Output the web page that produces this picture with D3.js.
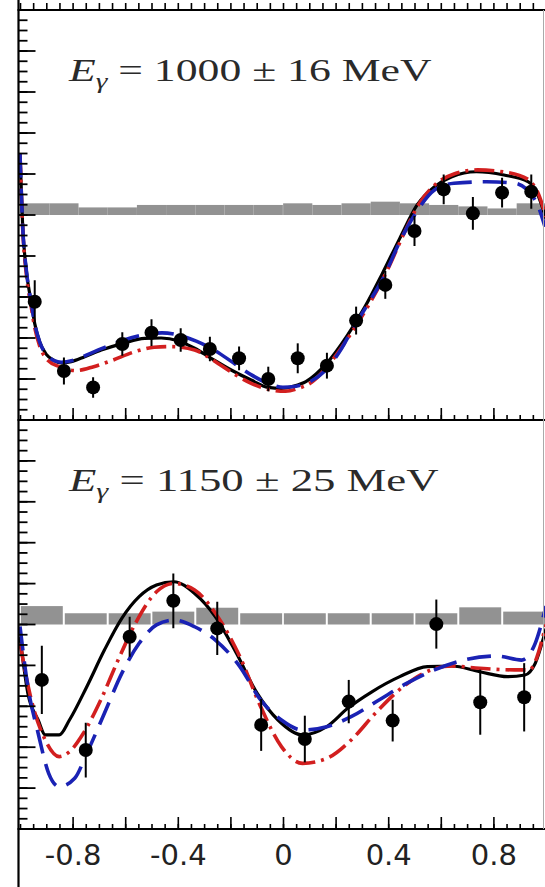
<!DOCTYPE html>
<html>
<head>
<meta charset="utf-8">
<script src="https://cdn.jsdelivr.net/npm/d3@7"></script>
<style>
  html, body { margin: 0; padding: 0; background: #fff; }
  svg { display: block; }
</style>
</head>
<body>
<div id="chart"></div>
<script>
// ---- data ----
// cos(theta) bin centres
var binsTop = [-0.944, -0.833, -0.722, -0.611, -0.5, -0.389, -0.278, -0.167, -0.056,
               0.056, 0.167, 0.278, 0.389, 0.5, 0.611, 0.722, 0.833, 0.944];
var binsBot = [-0.917, -0.75, -0.583, -0.417, -0.25, -0.083, 0.083, 0.25, 0.417, 0.583, 0.75, 0.917];

// measured points, statistical errors, systematic band (E = 1000 MeV)
var valTop = [-0.423, -0.761, -0.841, -0.629, -0.574, -0.610, -0.654, -0.699, -0.800,
              -0.699, -0.735, -0.515, -0.341, -0.078, 0.125, 0.008, 0.109, 0.114];
var errTop = [0.105, 0.066, 0.05, 0.057, 0.065, 0.057, 0.06, 0.058, 0.06,
              0.073, 0.063, 0.068, 0.068, 0.073, 0.073, 0.08, 0.073, 0.083];
var sysTop = [0.057, 0.057, 0.037, 0.037, 0.049, 0.049, 0.049, 0.049, 0.049,
              0.057, 0.049, 0.057, 0.065, 0.057, 0.049, 0.042, 0.032, 0.057];

// E = 1150 MeV
var valBot = [-0.271, -0.614, -0.060, 0.116, -0.019, -0.491, -0.560, -0.377, -0.470, 0.002, -0.380, -0.356];
var errBot = [0.167, 0.134, 0.098, 0.134, 0.13, 0.127, 0.114, 0.106, 0.102, 0.12, 0.159, 0.167];
var sysBot = [0.09, 0.055, 0.055, 0.063, 0.082, 0.055, 0.055, 0.055, 0.055, 0.055, 0.084, 0.063];

// model curves [cos(theta), value]
var blackTop = [[-1.0, 0.30], [-0.99, -0.05], [-0.975, -0.28], [-0.957, -0.43], [-0.944, -0.53], [-0.925, -0.62],
  [-0.90, -0.68], [-0.87, -0.71], [-0.843, -0.722], [-0.805, -0.715], [-0.754, -0.691], [-0.691, -0.659], [-0.608, -0.626],
  [-0.526, -0.602], [-0.463, -0.600], [-0.399, -0.613], [-0.336, -0.650], [-0.273, -0.699], [-0.197, -0.756],
  [-0.121, -0.805], [-0.057, -0.841], [-0.006, -0.846], [0.04, -0.835], [0.087, -0.813], [0.166, -0.724],
  [0.246, -0.585], [0.312, -0.447], [0.378, -0.285], [0.444, -0.114], [0.510, 0.049], [0.576, 0.138],
  [0.642, 0.187], [0.735, 0.211], [0.840, 0.195], [0.933, 0.162], [0.972, 0.089], [1.0, -0.02]];
var redTop = [[-1.0, 0.30], [-0.99, -0.06], [-0.975, -0.30], [-0.957, -0.45], [-0.944, -0.55], [-0.925, -0.64],
  [-0.90, -0.70], [-0.85, -0.74], [-0.786, -0.759], [-0.72, -0.74], [-0.653, -0.711], [-0.564, -0.667], [-0.49, -0.645],
  [-0.425, -0.642], [-0.336, -0.659], [-0.247, -0.724], [-0.18, -0.78], [-0.121, -0.821], [-0.044, -0.854],
  [0.01, -0.86], [0.06, -0.845], [0.11, -0.815], [0.18, -0.72], [0.26, -0.575], [0.33, -0.43], [0.40, -0.26],
  [0.46, -0.09], [0.52, 0.06], [0.58, 0.15], [0.65, 0.20], [0.74, 0.22], [0.84, 0.21], [0.93, 0.175],
  [0.972, 0.10], [1.0, -0.01]];
var blueTop = [[-1.0, 0.30], [-0.99, -0.05], [-0.975, -0.28], [-0.957, -0.43], [-0.944, -0.53], [-0.925, -0.62],
  [-0.90, -0.68], [-0.87, -0.71], [-0.843, -0.718], [-0.80, -0.71], [-0.75, -0.685], [-0.69, -0.652], [-0.61, -0.612],
  [-0.53, -0.585], [-0.46, -0.575], [-0.40, -0.585], [-0.33, -0.615], [-0.26, -0.66], [-0.19, -0.72],
  [-0.12, -0.78], [-0.06, -0.82], [0.0, -0.84], [0.05, -0.835], [0.10, -0.815], [0.16, -0.76], [0.219, -0.659],
  [0.259, -0.569], [0.32, -0.44], [0.38, -0.31], [0.45, -0.114], [0.51, 0.02], [0.576, 0.122], [0.65, 0.155],
  [0.774, 0.162], [0.88, 0.155], [0.959, 0.073], [0.996, -0.057]];

var blackBot = [[-1.0, -0.06], [-0.970, -0.337], [-0.931, -0.467], [-0.904, -0.540], [-0.851, -0.540],
  [-0.812, -0.467], [-0.746, -0.304], [-0.679, -0.125], [-0.613, 0.030], [-0.547, 0.136], [-0.481, 0.193],
  [-0.415, 0.209], [-0.336, 0.152], [-0.257, 0.038], [-0.177, -0.141], [-0.098, -0.337], [-0.019, -0.467],
  [0.074, -0.540], [0.166, -0.500], [0.246, -0.410], [0.338, -0.329], [0.444, -0.255], [0.549, -0.206],
  [0.642, -0.203], [0.748, -0.231], [0.854, -0.255], [0.920, -0.247], [0.959, -0.190], [1.0, -0.02]];
var redBot = [[-1.0, -0.092], [-0.957, -0.369], [-0.904, -0.565], [-0.851, -0.646], [-0.812, -0.622],
  [-0.759, -0.532], [-0.693, -0.369], [-0.627, -0.174], [-0.561, 0.006], [-0.481, 0.160], [-0.415, 0.201],
  [-0.336, 0.169], [-0.257, 0.055], [-0.164, -0.157], [-0.085, -0.402], [-0.006, -0.597], [0.074, -0.679],
  [0.166, -0.655], [0.259, -0.565], [0.351, -0.434], [0.457, -0.304], [0.563, -0.222], [0.642, -0.203],
  [0.748, -0.214], [0.880, -0.222], [0.935, -0.222], [1.0, 0.0]];
var blueBot = [[-1.0, -0.01], [-0.970, -0.304], [-0.931, -0.532], [-0.891, -0.728], [-0.851, -0.793],
  [-0.792, -0.752], [-0.746, -0.630], [-0.679, -0.434], [-0.613, -0.239], [-0.547, -0.092], [-0.481, -0.002],
  [-0.415, 0.022], [-0.336, -0.011], [-0.257, -0.076], [-0.164, -0.206], [-0.085, -0.369], [-0.006, -0.467],
  [0.074, -0.516], [0.166, -0.500], [0.259, -0.451], [0.365, -0.369], [0.470, -0.288], [0.576, -0.222],
  [0.687, -0.174], [0.814, -0.154], [0.907, -0.174], [0.959, -0.092], [1.0, 0.09]];

var labelsTop = "1000 \u00b1 16 MeV";
var labelsBot = "1150 \u00b1 25 MeV";
var xTickLabels = [-0.8, -0.4, 0, 0.4, 0.8];

// ---- layout ----
var W = 545, H = 887;
var svg = d3.select("#chart").append("svg")
    .attr("width", W)
    .attr("height", H);

var x = d3.scaleLinear().domain([-1, 1]).range([20, 546]);
var left = 18.5, right = 545;

var panels = [
  {top: 10, bottom: 420, bins: binsTop, val: valTop, err: errTop, sys: sysTop, gap: 0,
   curves: [blackTop, redTop, blueTop], label: labelsTop, labelEnd: 434},
  {top: 420, bottom: 829, bins: binsBot, val: valBot, err: errBot, sys: sysBot, gap: 2,
   curves: [blackBot, redBot, blueBot], label: labelsBot, labelEnd: 441}
];

var styles = [
  {color: "#000000", dash: null, width: 3.2},
  {color: "#d21f1f", dash: "20,6,3,6", width: 3.6},
  {color: "#1a22b4", dash: "24,11", width: 3.6}
];

var majors = d3.range(-0.8, 0.81, 0.2).map(function(d) { return Math.round(d * 10) / 10; });
var minors = d3.range(-1, 1.001, 0.05).map(function(d) { return Math.round(d * 100) / 100; });

panels.forEach(function(p, pi) {
  var y = d3.scaleLinear().domain([-1, 1]).range([p.bottom, p.top]);
  var clipId = "clip" + pi;
  svg.append("clipPath").attr("id", clipId)
    .append("rect")
      .attr("x", left).attr("y", p.top)
      .attr("width", right - left).attr("height", p.bottom - p.top);

  var g = svg.append("g").attr("clip-path", "url(#" + clipId + ")");

  // systematic error band
  var half = (p.bins[1] - p.bins[0]) / 2;
  g.selectAll(".sys")
    .data(p.bins)
    .enter().append("rect")
      .attr("class", "sys")
      .attr("x", function(d) { return x(d - half) + p.gap / 2; })
      .attr("width", function(d) { return x(d + half) - x(d - half) - p.gap; })
      .attr("y", function(d, i) { return y(p.sys[i]); })
      .attr("height", function(d, i) { return y(0) - y(p.sys[i]); })
      .attr("fill", "#929292");

  // model curves
  var line = d3.line()
      .x(function(d) { return x(d[0]); })
      .y(function(d) { return y(d[1]); })
      .curve(d3.curveMonotoneX);

  p.curves.forEach(function(c, ci) {
    var s = styles[ci];
    g.append("path")
      .datum(c)
      .attr("d", line)
      .attr("fill", "none")
      .attr("stroke", s.color)
      .attr("stroke-width", s.width)
      .attr("stroke-dasharray", s.dash)
      .attr("stroke-linejoin", "round");
  });

  // data points
  g.selectAll(".err")
    .data(p.bins)
    .enter().append("line")
      .attr("class", "err")
      .attr("x1", function(d) { return x(d); })
      .attr("x2", function(d) { return x(d); })
      .attr("y1", function(d, i) { return y(p.val[i] - p.err[i]); })
      .attr("y2", function(d, i) { return y(p.val[i] + p.err[i]); })
      .attr("stroke", "#000")
      .attr("stroke-width", 2);

  g.selectAll(".pt")
    .data(p.bins)
    .enter().append("circle")
      .attr("class", "pt")
      .attr("cx", function(d) { return x(d); })
      .attr("cy", function(d, i) { return y(p.val[i]); })
      .attr("r", 7)
      .attr("fill", "#000");

  // left axis ticks (pointing inward)
  var ax = svg.append("g").attr("transform", "translate(" + left + ",0)");
  ax.selectAll(".ymin")
    .data(minors.filter(function(d) { return Math.abs(d) < 1; }))
    .enter().append("line")
      .attr("x1", 0).attr("x2", 9)
      .attr("y1", function(d) { return y(d); })
      .attr("y2", function(d) { return y(d); })
      .attr("stroke", "#000").attr("stroke-width", 1.8);
  ax.selectAll(".ymaj")
    .data(majors)
    .enter().append("line")
      .attr("x1", 0).attr("x2", 17)
      .attr("y1", function(d) { return y(d); })
      .attr("y2", function(d) { return y(d); })
      .attr("stroke", "#000").attr("stroke-width", 1.8);

  // bottom axis of the panel, ticks pointing up
  var bot = svg.append("g").attr("transform", "translate(0," + p.bottom + ")");
  bot.call(d3.axisBottom(x).tickValues(minors).tickSize(-5).tickSizeOuter(0).tickFormat(""));
  bot.append("g").call(d3.axisBottom(x).tickValues(majors).tickSize(-12).tickSizeOuter(0).tickFormat(""));
  bot.selectAll("path").remove();
  bot.selectAll("line").attr("stroke", "#000").attr("stroke-width", 1.6);

  // energy label
  var t = svg.append("text")
      .attr("x", 69)
      .attr("y", p.top + 71)
      .attr("font-family", "'Liberation Serif', 'Times New Roman', serif")
      .attr("font-size", 31)
      .attr("fill", "#2a2a2a");
  t.append("tspan").attr("font-style", "italic").text("E");
  t.append("tspan").attr("font-style", "italic").attr("font-size", 21).attr("dy", 7).text("\u03b3");
  t.append("tspan").attr("dy", -7).text(" = " + p.label);
  // stretch horizontally to match the wide rendering of the original
  var bb = t.node().getBBox();
  var sx = (p.labelEnd - 69) / bb.width;
  t.attr("transform", "translate(69,0) scale(" + sx + ",1) translate(-69,0)");
});

// panel above (cropped) bottom ticks, pointing up from the top frame
var topEdge = svg.append("g").attr("transform", "translate(0,10)");
topEdge.call(d3.axisBottom(x).tickValues(minors).tickSize(7).tickSizeOuter(0).tickFormat(""));
topEdge.selectAll("line").attr("transform", "scale(1,-1)").attr("stroke", "#000").attr("stroke-width", 1.6);
topEdge.selectAll("path").remove();

// frame lines
var frame = svg.append("g").attr("stroke", "#000").attr("stroke-width", 2.2);
[10, 420, 829].forEach(function(yy) {
  frame.append("line").attr("x1", left - 1).attr("x2", W).attr("y1", yy).attr("y2", yy);
});
frame.append("line").attr("x1", left).attr("x2", left).attr("y1", 0).attr("y2", H);
svg.append("line")
  .attr("x1", 543.5).attr("x2", 543.5).attr("y1", 10).attr("y2", 829)
  .attr("stroke", "#aaa").attr("stroke-width", 1);

// x tick labels under the lower panel
var lab = svg.append("g").attr("transform", "translate(0,829)");
lab.call(d3.axisBottom(x).tickValues(xTickLabels).tickSize(0).tickPadding(15)
  .tickFormat(function(d) { return d === 0 ? "0" : String(d); }));
lab.select("path").remove();
lab.selectAll("text")
  .attr("font-family", "'DejaVu Sans', Arial, sans-serif")
  .attr("font-size", 29)
  .attr("fill", "#222");
</script>
</body>
</html>
